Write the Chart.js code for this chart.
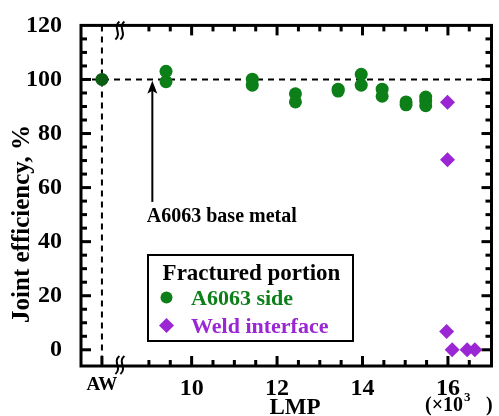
<!DOCTYPE html>
<html>
<head>
<meta charset="utf-8">
<script src="https://cdn.jsdelivr.net/npm/chart.js@4.4.1/dist/chart.umd.min.js"></script>
<style>
html, body { margin: 0; padding: 0; background: #fff; }
</style>
</head>
<body>
<canvas id="grafico" width="499" height="416"></canvas>
<script>
// datos (LMP en miles, eficiencia en %)
const awLMP = [7.9];
const awEfficiency = [100];

const a6063LMP = [9.4, 9.4, 11.42, 11.42, 12.43, 12.43, 13.43, 13.43, 13.97, 13.97, 14.46, 14.46, 15.02, 15.02, 15.48, 15.48, 15.48];
const a6063Efficiency = [103, 99.2, 100.1, 97.9, 94.7, 91.7, 96.4, 95.7, 101.9, 97.9, 96.4, 93.8, 91.7, 90.6, 93.5, 92, 90.3];

const weldLMP = [15.99, 15.99, 15.97, 16.1, 16.45, 16.63];
const weldEfficiency = [91.6, 70.3, 6.8, 0, 0, 0];

const xTickValues = [7.9, 10, 12, 14, 16];
const xTickLabels = ['AW', '10', '12', '14', '16'];
const yTickValues = [0, 20, 40, 60, 80, 100, 120];
const yTickLabels = ['0', '20', '40', '60', '80', '100', '120'];

const baseMetalLevel = 100;

const VERDE = '#0c7f18';
const VERDE_OSCURO = '#0b5d12';
const MORADO = '#9a26d4';
const FUENTE = '"Liberation Serif", "Times New Roman", serif';

const decoracion = {
    id: 'decoracion',
    beforeDatasetsDraw(chart) {
        const { ctx, chartArea: a, scales: { x, y } } = chart;
        ctx.save();
        ctx.strokeStyle = '#000';
        ctx.fillStyle = '#000';

        // lineas discontinuas (AW y 100 %)
        ctx.lineWidth = 2;
        ctx.setLineDash([6, 5]);
        const xAW = x.getPixelForValue(awLMP[0]);
        ctx.beginPath();
        ctx.moveTo(xAW, a.top);
        ctx.lineTo(xAW, a.bottom);
        ctx.stroke();
        const y100 = y.getPixelForValue(baseMetalLevel);
        ctx.beginPath();
        ctx.moveTo(a.left, y100);
        ctx.lineTo(a.right, y100);
        ctx.stroke();
        ctx.setLineDash([]);

        // marcas hacia dentro en los cuatro lados
        ctx.fillRect(xAW - 1.5, a.bottom - 10, 3, 10);
        for (let v = 9; v < 17; v += 0.5) {
            const px = x.getPixelForValue(v);
            const largo = v % 2 === 0 ? 10 : 6;
            ctx.fillRect(px - 1.5, a.bottom - largo, 3, largo);
            ctx.fillRect(px - 1.5, a.top, 3, largo);
        }
        for (let v = 0; v < 120; v += 5) {
            const py = y.getPixelForValue(v);
            const largo = v % 20 === 0 ? 10 : 6;
            ctx.fillRect(a.left, py - 1.5, largo, 3);
            ctx.fillRect(a.right - largo, py - 1.5, largo, 3);
        }

        // marco
        ctx.lineWidth = 3;
        ctx.strokeRect(a.left, a.top, a.right - a.left, a.bottom - a.top);

        // cortes del eje
        const xCorte = x.getPixelForValue(8.32);
        ctx.lineWidth = 2;
        [[a.top, 5], [a.bottom, -1]].forEach(([yp, dy]) => {
            [-2.5, 2.5].forEach(dx => {
                ctx.beginPath();
                ctx.moveTo(xCorte + dx + 2, yp + dy - 9);
                ctx.bezierCurveTo(xCorte + dx - 5, yp + dy - 3, xCorte + dx + 5, yp + dy + 3, xCorte + dx - 2, yp + dy + 9);
                ctx.stroke();
            });
        });
        ctx.restore();
    },
    afterDraw(chart) {
        const { ctx, scales: { x, y } } = chart;
        ctx.save();
        ctx.fillStyle = '#000';
        ctx.strokeStyle = '#000';

        // flecha y texto del metal base
        const xf = x.getPixelForValue(9.08);
        const yPunta = y.getPixelForValue(99.5);
        const yCola = y.getPixelForValue(54.7);
        ctx.lineWidth = 2;
        ctx.beginPath();
        ctx.moveTo(xf, yCola);
        ctx.lineTo(xf, yPunta + 8);
        ctx.stroke();
        ctx.beginPath();
        ctx.moveTo(xf, yPunta);
        ctx.lineTo(xf - 5, yPunta + 13);
        ctx.lineTo(xf, yPunta + 10);
        ctx.lineTo(xf + 5, yPunta + 13);
        ctx.closePath();
        ctx.fill();
        ctx.font = 'bold 20px ' + FUENTE;
        ctx.textBaseline = 'middle';
        ctx.textAlign = 'left';
        ctx.fillText('A6063 base metal', x.getPixelForValue(8.95), y.getPixelForValue(49));

        // leyenda
        const lx = 148, ly = 255, lw = 205, lh = 86;
        ctx.fillStyle = '#fff';
        ctx.fillRect(lx, ly, lw, lh);
        ctx.lineWidth = 2;
        ctx.strokeRect(lx, ly, lw, lh);
        ctx.fillStyle = '#000';
        ctx.font = 'bold 23px ' + FUENTE;
        ctx.textAlign = 'center';
        ctx.textBaseline = 'alphabetic';
        ctx.fillText('Fractured portion', lx + lw / 2 + 1, 280);
        ctx.textAlign = 'left';
        ctx.font = 'bold 22px ' + FUENTE;
        ctx.fillStyle = VERDE;
        ctx.beginPath();
        ctx.arc(166.5, 297.5, 6, 0, Math.PI * 2);
        ctx.fill();
        ctx.fillText('A6063 side', 191, 305);
        ctx.fillStyle = MORADO;
        ctx.beginPath();
        ctx.moveTo(166.5, 318);
        ctx.lineTo(174, 325.5);
        ctx.lineTo(166.5, 333);
        ctx.lineTo(159, 325.5);
        ctx.closePath();
        ctx.fill();
        ctx.fillText('Weld interface', 191, 332.5);

        // titulos de ejes
        ctx.fillStyle = '#000';
        ctx.font = 'bold 23px ' + FUENTE;
        ctx.textAlign = 'center';
        ctx.textBaseline = 'middle';
        ctx.fillText('LMP', 295, 408);
        ctx.save();
        ctx.translate(23, 224);
        ctx.rotate(-Math.PI / 2);
        ctx.font = 'bold 25px ' + FUENTE;
        ctx.fillText('Joint efficiency, %', 0, 0);
        ctx.restore();

        // (x10^3)
        ctx.textAlign = 'left';
        ctx.textBaseline = 'alphabetic';
        ctx.font = 'bold 20px ' + FUENTE;
        let cx = 425;
        ctx.fillText('(\u00d710', cx, 411);
        cx += ctx.measureText('(\u00d710').width;
        ctx.font = 'bold 13px ' + FUENTE;
        ctx.fillText('3', cx + 1, 401);
        ctx.font = 'bold 20px ' + FUENTE;
        ctx.fillText(')', 486, 411);
        ctx.restore();
    }
};

new Chart(document.getElementById('grafico'), {
    type: 'scatter',
    data: {
        datasets: [
            {
                label: 'AW',
                data: awLMP.map((v, i) => ({ x: v, y: awEfficiency[i] })),
                backgroundColor: VERDE_OSCURO,
                borderWidth: 0,
                pointRadius: 6.5,
                pointHoverRadius: 6.5
            },
            {
                label: 'A6063 side',
                data: a6063LMP.map((v, i) => ({ x: v, y: a6063Efficiency[i] })),
                backgroundColor: VERDE,
                borderWidth: 0,
                pointRadius: 6.5,
                pointHoverRadius: 6.5
            },
            {
                label: 'Weld interface',
                data: weldLMP.map((v, i) => ({ x: v, y: weldEfficiency[i] })),
                backgroundColor: MORADO,
                borderWidth: 0,
                pointStyle: 'rectRot',
                pointRadius: 7.5,
                pointHoverRadius: 7.5
            }
        ]
    },
    options: {
        responsive: false,
        animation: false,
        devicePixelRatio: 1,
        layout: { padding: { top: 23, right: 6, left: 0, bottom: 0 } },
        plugins: {
            legend: { display: false },
            tooltip: { enabled: false }
        },
        scales: {
            x: {
                type: 'linear',
                min: 7.41,
                max: 17.02,
                grid: { display: false },
                border: { display: false },
                afterBuildTicks: s => { s.ticks = xTickValues.map(v => ({ value: v })); },
                afterFit: s => { s.height = 50; },
                ticks: {
                    autoSkip: false,
                    maxRotation: 0,
                    padding: 0,
                    color: '#000',
                    font: c => (c.tick && c.tick.value === awLMP[0])
                        ? { family: FUENTE, size: 19, weight: 'bold' }
                        : { family: FUENTE, size: 24, weight: 'bold' },
                    callback: v => xTickLabels[xTickValues.indexOf(v)]
                }
            },
            y: {
                min: -6,
                max: 120,
                grid: { display: false },
                border: { display: false },
                afterBuildTicks: s => { s.ticks = yTickValues.map(v => ({ value: v })); },
                afterFit: s => { s.width = 81; },
                ticks: {
                    padding: 11,
                    color: '#000',
                    font: { family: FUENTE, size: 24, weight: 'bold' },
                    callback: v => yTickLabels[yTickValues.indexOf(v)]
                }
            }
        }
    },
    plugins: [decoracion]
});
</script>
</body>
</html>
